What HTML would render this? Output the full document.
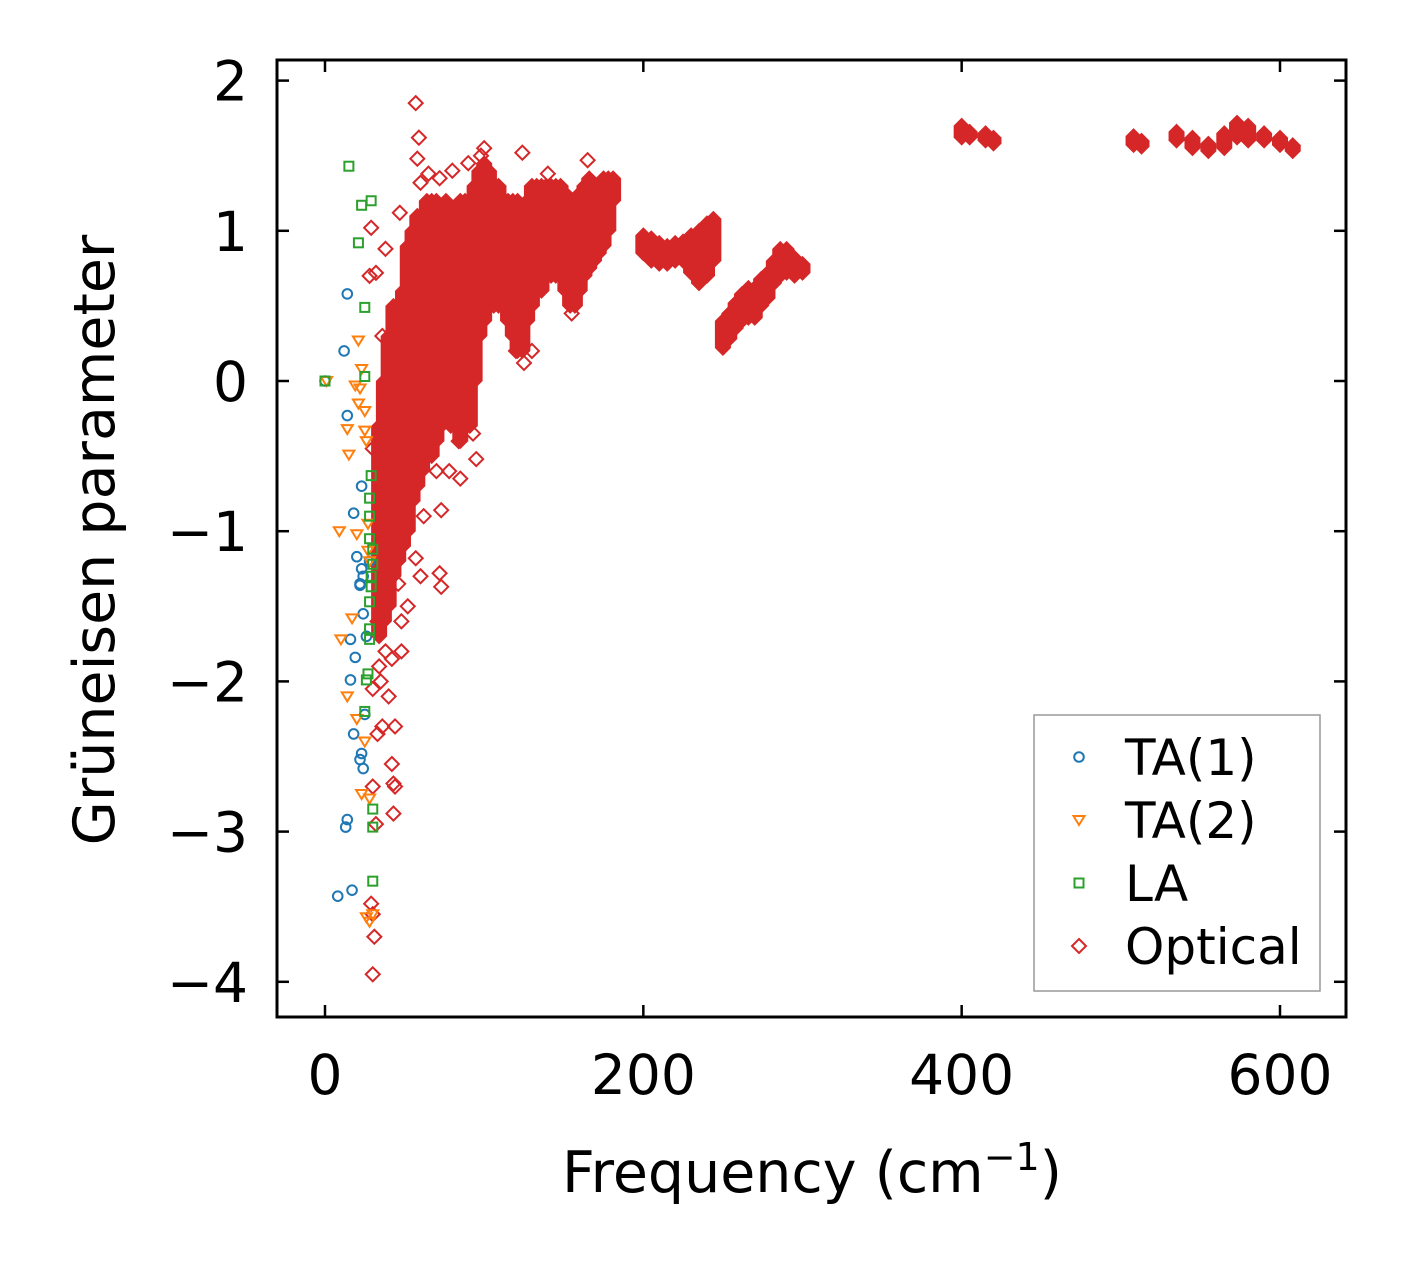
<!DOCTYPE html>
<html><head><meta charset="utf-8"><style>
html,body{margin:0;padding:0;background:#fff;}
svg{display:block;font-family:"DejaVu Sans","Liberation Sans",sans-serif;}
</style></head><body>
<svg id="chart" width="1406" height="1265" viewBox="0 0 1406 1265">
<rect x="0" y="0" width="1406" height="1265" fill="#fff"/>
<g id="marks"></g>
<rect x="277" y="60" width="1069" height="957" fill="none" stroke="#000" stroke-width="3"/>
<g id="axes"></g>
<text x="812" y="1192" font-size="57" text-anchor="middle">Frequency (cm<tspan dy="-22" font-size="38">−1</tspan><tspan dy="22">)</tspan></text>
<text transform="translate(114,540) rotate(-90)" font-size="57" text-anchor="middle">Grüneisen parameter</text>
<g>
<rect x="1034" y="715" width="286" height="276" fill="#fff" stroke="#999" stroke-width="1.5"/>
<g id="legend-items"></g>
</g>
</svg>
<script>
const xTicks=[0,200,400,600];
const yTicks=[2,1,0,-1,-2,-3,-4];
const yTickLabels=["2","1","0","−1","−2","−3","−4"];
const ta1Points=[[0,0],[12,0.2],[14,0.58],[14,-0.23],[18,-0.88],[23,-0.7],[20,-1.17],[23,-1.25],[24,-1.3],[22,-1.36],[24,-1.55],[16,-1.72],[26,-1.7],[19,-1.84],[16,-1.99],[25,-2.22],[18,-2.35],[23,-2.48],[22,-2.52],[24,-2.58],[14,-2.92],[13,-2.97],[8,-3.43],[17,-3.39],[22,-1.35],[28,-1.2]];
const ta2Points=[[1,0],[21,0.27],[23,0.08],[19,-0.03],[22,-0.05],[21,-0.15],[25,-0.2],[14,-0.32],[25,-0.33],[26,-0.4],[15,-0.49],[9,-1.0],[20,-1.02],[27,-0.95],[27,-1.13],[28,-1.2],[17,-1.58],[10,-1.72],[14,-2.1],[20,-2.25],[25,-2.4],[23,-2.75],[28,-2.78],[26,-3.57],[28,-3.6],[30,-3.55]];
const laPoints=[[0,0],[15,1.43],[23,1.17],[29,1.2],[21,0.92],[25,0.49],[25,0.03],[29,-0.63],[28,-0.78],[28,-0.9],[28,-1.05],[30,-1.12],[30,-1.22],[29,-1.3],[29,-1.37],[28,-1.47],[28,-1.65],[28,-1.72],[27,-1.95],[26,-1.99],[25,-2.2],[30,-2.85],[30,-2.97],[30,-3.33]];
const opticalPoints=[[30,-3.95],[31,-3.7],[30,-3.55],[29,-3.48],[32,-2.95],[30,-2.7],[33,-2.35],[30,-2.05],[35,-2.0],[40,-2.1],[44,-2.3],[42,-2.55],[44,-2.7],[43,-2.68],[43,-2.88],[38,-1.8],[42,-1.85],[48,-1.8],[30,-0.45],[29,1.02],[32,0.72],[28,0.7],[38,0.88],[36,0.3],[57,1.85],[59,1.62],[58,1.48],[60,1.32],[57,-1.18],[60,-1.3],[72,-1.28],[73,-1.37],[73,-0.86],[62,-0.9],[70,-0.6],[78,-0.6],[85,-0.65],[84,-0.4],[95,-0.52],[93,-0.35],[65,1.38],[72,1.35],[80,1.4],[90,1.45],[100,1.55],[98,1.5],[124,1.52],[125,0.12],[130,0.2],[120,0.2],[140,1.38],[155,0.45],[165,1.47],[47,1.12],[52,-1.5],[46,-1.35],[48,-1.6],[50,-1.0],[33,-1.6],[35,-1.3],[36,-2.3],[34,-1.9]];
const bandFreq=[34,37,40,43,46,49,52,55,58,61,64,67,70,73,76,79,82,85,88,91,94,97,100,103,106,109,112,115,118,121,124,127,130,133,136,139,142,145,148,151,154,157,160,163,166,169,172,175,178,181,200,205,210,215,220,225,230,235,240,244,250,254,258,262,266,270,274,278,282,286,290,295,300,400,405,415,420,508,513,535,545,555,565,573,580,590,600,608];
const bandLow=[-1.7,-1.6,-1.5,-1.3,-1.2,-1.1,-1.0,-0.8,-0.7,-0.6,-0.5,-0.5,-0.4,-0.3,-0.2,-0.3,-0.3,-0.4,-0.3,-0.3,0.0,0.3,0.4,0.5,0.5,0.5,0.5,0.4,0.3,0.2,0.2,0.4,0.5,0.6,0.6,0.7,0.7,0.7,0.7,0.6,0.5,0.5,0.6,0.7,0.75,0.8,0.85,0.9,1.0,1.2,0.85,0.8,0.78,0.78,0.8,0.8,0.72,0.65,0.7,0.8,0.22,0.28,0.35,0.4,0.42,0.42,0.5,0.55,0.65,0.7,0.72,0.7,0.72,1.62,1.62,1.6,1.58,1.57,1.56,1.6,1.55,1.53,1.55,1.62,1.6,1.6,1.57,1.53];
const bandHigh=[-0.3,0.0,0.3,0.5,0.5,0.6,0.9,1.0,1.1,1.1,1.2,1.2,1.2,1.1,1.2,1.1,1.1,1.2,1.2,1.2,1.3,1.4,1.45,1.4,1.3,1.3,1.2,1.2,1.2,1.2,1.15,1.2,1.3,1.3,1.3,1.3,1.3,1.3,1.3,1.25,1.2,1.2,1.25,1.3,1.35,1.3,1.3,1.35,1.35,1.35,0.97,0.95,0.92,0.9,0.92,0.93,0.97,1.0,1.05,1.08,0.4,0.45,0.52,0.58,0.62,0.62,0.68,0.72,0.8,0.88,0.88,0.82,0.78,1.7,1.66,1.65,1.62,1.63,1.6,1.66,1.62,1.58,1.65,1.72,1.7,1.65,1.62,1.57];

const NS="http://www.w3.org/2000/svg";
function X(v){return 325+v*(1280-325)/600;}
function Y(v){return 381-v*150.2;}
function el(tag,attrs,parent){const e=document.createElementNS(NS,tag);for(const k in attrs)e.setAttribute(k,attrs[k]);parent.appendChild(e);return e;}
const marks=document.getElementById('marks');
const axes=document.getElementById('axes');
const RED="#d62728";

for(let i=0;i<bandFreq.length;i++){
  const x=X(bandFreq[i]), yt=Y(bandHigh[i]), yb=Y(bandLow[i]);
  const r=el('path',{d:`M${x} ${yt-8}L${x+8} ${yt}L${x+8} ${yb}L${x} ${yb+8}L${x-8} ${yb}L${x-8} ${yt}Z`,fill:RED},marks);
  
  
}
function diamond(x,y,c,p){return el('path',{d:`M${x} ${y-7}L${x+7} ${y}L${x} ${y+7}L${x-7} ${y}Z`,fill:'none',stroke:c,'stroke-width':2},p);}
function circle(x,y,c,p){return el('circle',{cx:x,cy:y,r:4.8,fill:'none',stroke:c,'stroke-width':2},p);}
function tri(x,y,c,p){return el('path',{d:`M${x-5.5} ${y-4}L${x+5.5} ${y-4}L${x} ${y+5}Z`,fill:'none',stroke:c,'stroke-width':2},p);}
function sq(x,y,c,p){return el('rect',{x:x-4.5,y:y-4.5,width:9,height:9,fill:'none',stroke:c,'stroke-width':2},p);}
for(const p of opticalPoints){
  const m=diamond(X(p[0]),Y(p[1]),RED,marks);
  
  
}
for(const p of ta1Points){
  const m=circle(X(p[0]),Y(p[1]),"#1f77b4",marks);
  
  
}
for(const p of ta2Points){
  const m=tri(X(p[0]),Y(p[1]),"#ff7f0e",marks);
  
  
}
for(const p of laPoints){
  const m=sq(X(p[0]),Y(p[1]),"#2ca02c",marks);
  
  
}
for(const t of xTicks){
  const x=X(t);
  const a=el('line',{x1:x,y1:1017,x2:x,y2:1005,stroke:'#000','stroke-width':2.5},axes);
  
  
  const b=el('line',{x1:x,y1:60,x2:x,y2:72,stroke:'#000','stroke-width':2.5},axes);
  
  
  const l=el('text',{x:x,y:1094,'font-size':55,'text-anchor':'middle'},axes);
  l.textContent=String(t);
  
  
}
yTicks.forEach((t,i)=>{
  const y=Y(t);
  const a=el('line',{x1:277,y1:y,x2:289,y2:y,stroke:'#000','stroke-width':2.5},axes);
  
  
  const b=el('line',{x1:1346,y1:y,x2:1334,y2:y,stroke:'#000','stroke-width':2.5},axes);
  
  
  const l=el('text',{x:248,y:y+20,'font-size':55,'text-anchor':'end'},axes);
  l.textContent=yTickLabels[i];
  
  
});
const legendLabels=["TA(1)","TA(2)","LA","Optical"];
const legendColors=["#1f77b4","#ff7f0e","#2ca02c",RED];
const legendFns=[circle,tri,sq,diamond];
const li=document.getElementById('legend-items');
legendLabels.forEach((name,i)=>{
  const y=757+i*63;
  const g=el('g',{},li);
  
  
  legendFns[i](1079,y,legendColors[i],g);
  const t=el('text',{x:1125,y:y+18,'font-size':50},g);
  t.textContent=name;
});
</script>
</body></html>
